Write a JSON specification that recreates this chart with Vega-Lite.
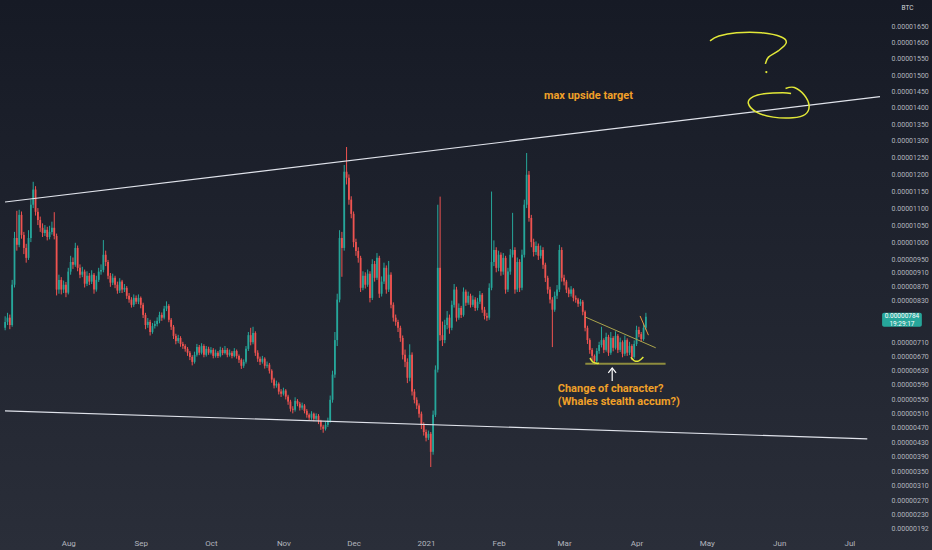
{
"$schema":"https://vega.github.io/schema/vega-lite/v6.json",
"width":885,"height":534,"autosize":"none",
"padding":{"left":0,"top":0,"right":47,"bottom":16},
"background":"#1e222d",
"config":{"view":{"stroke":null},"font":"Roboto","axis":{"labelOverlap":false,"labelSeparation":0}},
"datasets":{"candles":[
{"d":"2020-07-05","o":752,"h":785,"l":745,"c":769},
{"d":"2020-07-06","o":769,"h":795,"l":760,"c":781},
{"d":"2020-07-07","o":781,"h":790,"l":748,"c":760},
{"d":"2020-07-08","o":760,"h":890,"l":755,"c":876},
{"d":"2020-07-09","o":876,"h":1030,"l":868,"c":1012},
{"d":"2020-07-10","o":1012,"h":1092,"l":975,"c":992},
{"d":"2020-07-11","o":992,"h":1095,"l":985,"c":1080},
{"d":"2020-07-12","o":1080,"h":1090,"l":1010,"c":1021},
{"d":"2020-07-13","o":1021,"h":1030,"l":965,"c":983},
{"d":"2020-07-14","o":983,"h":995,"l":940,"c":954},
{"d":"2020-07-15","o":954,"h":1035,"l":948,"c":1012},
{"d":"2020-07-16","o":1012,"h":1125,"l":1000,"c":1110},
{"d":"2020-07-17","o":1110,"h":1178,"l":1100,"c":1155},
{"d":"2020-07-18","o":1155,"h":1165,"l":1078,"c":1089},
{"d":"2020-07-19","o":1089,"h":1100,"l":1050,"c":1065},
{"d":"2020-07-20","o":1065,"h":1075,"l":1030,"c":1042},
{"d":"2020-07-21","o":1042,"h":1055,"l":1015,"c":1027},
{"d":"2020-07-22","o":1027,"h":1050,"l":1018,"c":1036},
{"d":"2020-07-23","o":1036,"h":1045,"l":1005,"c":1015},
{"d":"2020-07-24","o":1015,"h":1048,"l":1008,"c":1030},
{"d":"2020-07-25","o":1030,"h":1060,"l":1022,"c":1042},
{"d":"2020-07-26","o":1042,"h":1088,"l":1008,"c":1018},
{"d":"2020-07-27","o":1018,"h":1025,"l":845,"c":862},
{"d":"2020-07-28","o":862,"h":905,"l":850,"c":890},
{"d":"2020-07-29","o":890,"h":898,"l":848,"c":862},
{"d":"2020-07-30","o":862,"h":888,"l":852,"c":876},
{"d":"2020-07-31","o":876,"h":884,"l":840,"c":853},
{"d":"2020-08-01","o":853,"h":925,"l":848,"c":914},
{"d":"2020-08-02","o":914,"h":960,"l":905,"c":942},
{"d":"2020-08-03","o":942,"h":955,"l":922,"c":934},
{"d":"2020-08-04","o":934,"h":998,"l":928,"c":983},
{"d":"2020-08-05","o":983,"h":990,"l":915,"c":925},
{"d":"2020-08-06","o":925,"h":935,"l":895,"c":905},
{"d":"2020-08-07","o":905,"h":928,"l":898,"c":914},
{"d":"2020-08-08","o":914,"h":920,"l":868,"c":879},
{"d":"2020-08-09","o":879,"h":915,"l":872,"c":902},
{"d":"2020-08-10","o":902,"h":910,"l":875,"c":885},
{"d":"2020-08-11","o":885,"h":918,"l":878,"c":905},
{"d":"2020-08-12","o":905,"h":910,"l":850,"c":862},
{"d":"2020-08-13","o":862,"h":902,"l":856,"c":890},
{"d":"2020-08-14","o":890,"h":925,"l":884,"c":914},
{"d":"2020-08-15","o":914,"h":935,"l":905,"c":919},
{"d":"2020-08-16","o":919,"h":1006,"l":912,"c":963},
{"d":"2020-08-17","o":963,"h":975,"l":930,"c":942},
{"d":"2020-08-18","o":942,"h":948,"l":892,"c":902},
{"d":"2020-08-19","o":902,"h":910,"l":870,"c":882},
{"d":"2020-08-20","o":882,"h":908,"l":875,"c":896},
{"d":"2020-08-21","o":896,"h":902,"l":866,"c":876},
{"d":"2020-08-22","o":876,"h":885,"l":850,"c":859},
{"d":"2020-08-23","o":859,"h":895,"l":852,"c":885},
{"d":"2020-08-24","o":885,"h":890,"l":852,"c":862},
{"d":"2020-08-25","o":862,"h":878,"l":855,"c":867},
{"d":"2020-08-26","o":867,"h":872,"l":835,"c":844},
{"d":"2020-08-27","o":844,"h":852,"l":824,"c":833},
{"d":"2020-08-28","o":833,"h":840,"l":810,"c":818},
{"d":"2020-08-29","o":818,"h":848,"l":812,"c":838},
{"d":"2020-08-30","o":838,"h":845,"l":820,"c":827},
{"d":"2020-08-31","o":827,"h":848,"l":820,"c":838},
{"d":"2020-09-01","o":838,"h":842,"l":808,"c":818},
{"d":"2020-09-02","o":818,"h":824,"l":780,"c":789},
{"d":"2020-09-03","o":789,"h":795,"l":748,"c":760},
{"d":"2020-09-04","o":760,"h":780,"l":752,"c":769},
{"d":"2020-09-05","o":769,"h":775,"l":730,"c":740},
{"d":"2020-09-06","o":740,"h":766,"l":735,"c":757},
{"d":"2020-09-07","o":757,"h":772,"l":750,"c":763},
{"d":"2020-09-08","o":763,"h":782,"l":756,"c":772},
{"d":"2020-09-09","o":772,"h":798,"l":765,"c":789},
{"d":"2020-09-10","o":789,"h":796,"l":772,"c":781},
{"d":"2020-09-11","o":781,"h":815,"l":776,"c":807},
{"d":"2020-09-12","o":807,"h":828,"l":800,"c":815},
{"d":"2020-09-13","o":815,"h":820,"l":768,"c":775},
{"d":"2020-09-14","o":775,"h":780,"l":746,"c":755},
{"d":"2020-09-15","o":755,"h":760,"l":720,"c":729},
{"d":"2020-09-16","o":729,"h":735,"l":705,"c":714},
{"d":"2020-09-17","o":714,"h":732,"l":708,"c":723},
{"d":"2020-09-18","o":723,"h":728,"l":698,"c":706},
{"d":"2020-09-19","o":706,"h":712,"l":692,"c":700},
{"d":"2020-09-20","o":700,"h":705,"l":684,"c":692},
{"d":"2020-09-21","o":692,"h":697,"l":672,"c":681},
{"d":"2020-09-22","o":681,"h":686,"l":660,"c":669},
{"d":"2020-09-23","o":669,"h":674,"l":645,"c":655},
{"d":"2020-09-24","o":655,"h":684,"l":650,"c":675},
{"d":"2020-09-25","o":675,"h":706,"l":670,"c":697},
{"d":"2020-09-26","o":697,"h":703,"l":674,"c":681},
{"d":"2020-09-27","o":681,"h":708,"l":676,"c":700},
{"d":"2020-09-28","o":700,"h":705,"l":668,"c":675},
{"d":"2020-09-29","o":675,"h":700,"l":670,"c":692},
{"d":"2020-09-30","o":692,"h":698,"l":675,"c":681},
{"d":"2020-10-01","o":681,"h":697,"l":676,"c":689},
{"d":"2020-10-02","o":689,"h":694,"l":665,"c":672},
{"d":"2020-10-03","o":672,"h":690,"l":667,"c":681},
{"d":"2020-10-04","o":681,"h":686,"l":666,"c":672},
{"d":"2020-10-05","o":672,"h":698,"l":668,"c":689},
{"d":"2020-10-06","o":689,"h":695,"l":674,"c":680},
{"d":"2020-10-07","o":680,"h":700,"l":676,"c":689},
{"d":"2020-10-08","o":689,"h":694,"l":668,"c":675},
{"d":"2020-10-09","o":675,"h":690,"l":670,"c":681},
{"d":"2020-10-10","o":681,"h":686,"l":665,"c":672},
{"d":"2020-10-11","o":672,"h":694,"l":668,"c":686},
{"d":"2020-10-12","o":686,"h":690,"l":664,"c":672},
{"d":"2020-10-13","o":672,"h":676,"l":652,"c":661},
{"d":"2020-10-14","o":661,"h":665,"l":635,"c":644},
{"d":"2020-10-15","o":644,"h":662,"l":638,"c":655},
{"d":"2020-10-16","o":655,"h":700,"l":650,"c":692},
{"d":"2020-10-17","o":692,"h":740,"l":686,"c":731},
{"d":"2020-10-18","o":731,"h":752,"l":702,"c":711},
{"d":"2020-10-19","o":711,"h":755,"l":705,"c":737},
{"d":"2020-10-20","o":737,"h":742,"l":672,"c":681},
{"d":"2020-10-21","o":681,"h":688,"l":655,"c":664},
{"d":"2020-10-22","o":664,"h":670,"l":646,"c":655},
{"d":"2020-10-23","o":655,"h":672,"l":650,"c":664},
{"d":"2020-10-24","o":664,"h":668,"l":636,"c":644},
{"d":"2020-10-25","o":644,"h":656,"l":638,"c":647},
{"d":"2020-10-26","o":647,"h":652,"l":622,"c":630},
{"d":"2020-10-27","o":630,"h":634,"l":596,"c":605},
{"d":"2020-10-28","o":605,"h":610,"l":580,"c":588},
{"d":"2020-10-29","o":588,"h":602,"l":582,"c":593},
{"d":"2020-10-30","o":593,"h":597,"l":563,"c":571},
{"d":"2020-10-31","o":571,"h":578,"l":556,"c":565},
{"d":"2020-11-01","o":565,"h":582,"l":560,"c":574},
{"d":"2020-11-02","o":574,"h":578,"l":549,"c":557},
{"d":"2020-11-03","o":557,"h":562,"l":534,"c":543},
{"d":"2020-11-04","o":543,"h":548,"l":515,"c":523},
{"d":"2020-11-05","o":523,"h":530,"l":510,"c":520},
{"d":"2020-11-06","o":520,"h":555,"l":515,"c":545},
{"d":"2020-11-07","o":545,"h":550,"l":530,"c":537},
{"d":"2020-11-08","o":537,"h":542,"l":518,"c":526},
{"d":"2020-11-09","o":526,"h":540,"l":520,"c":532},
{"d":"2020-11-10","o":532,"h":536,"l":510,"c":517},
{"d":"2020-11-11","o":517,"h":522,"l":498,"c":506},
{"d":"2020-11-12","o":506,"h":510,"l":490,"c":498},
{"d":"2020-11-13","o":498,"h":516,"l":492,"c":509},
{"d":"2020-11-14","o":509,"h":512,"l":488,"c":495},
{"d":"2020-11-15","o":495,"h":510,"l":490,"c":503},
{"d":"2020-11-16","o":503,"h":508,"l":480,"c":489},
{"d":"2020-11-17","o":489,"h":492,"l":464,"c":473},
{"d":"2020-11-18","o":473,"h":478,"l":456,"c":467},
{"d":"2020-11-19","o":467,"h":486,"l":462,"c":478},
{"d":"2020-11-20","o":478,"h":498,"l":472,"c":489},
{"d":"2020-11-21","o":489,"h":560,"l":484,"c":548},
{"d":"2020-11-22","o":548,"h":630,"l":540,"c":619},
{"d":"2020-11-23","o":619,"h":740,"l":610,"c":717},
{"d":"2020-11-24","o":717,"h":850,"l":700,"c":833},
{"d":"2020-11-25","o":833,"h":1035,"l":825,"c":1012},
{"d":"2020-11-26","o":1012,"h":1030,"l":899,"c":983},
{"d":"2020-11-27","o":983,"h":1228,"l":975,"c":1208},
{"d":"2020-11-28","o":1208,"h":1282,"l":1170,"c":1190},
{"d":"2020-11-29","o":1190,"h":1200,"l":1110,"c":1125},
{"d":"2020-11-30","o":1125,"h":1135,"l":1070,"c":1083},
{"d":"2020-12-01","o":1083,"h":1090,"l":985,"c":1000},
{"d":"2020-12-02","o":1000,"h":1010,"l":960,"c":974},
{"d":"2020-12-03","o":974,"h":985,"l":940,"c":954},
{"d":"2020-12-04","o":954,"h":960,"l":855,"c":867},
{"d":"2020-12-05","o":867,"h":915,"l":860,"c":902},
{"d":"2020-12-06","o":902,"h":912,"l":865,"c":876},
{"d":"2020-12-07","o":876,"h":920,"l":870,"c":908},
{"d":"2020-12-08","o":908,"h":915,"l":825,"c":838},
{"d":"2020-12-09","o":838,"h":950,"l":832,"c":936},
{"d":"2020-12-10","o":936,"h":945,"l":885,"c":896},
{"d":"2020-12-11","o":896,"h":968,"l":890,"c":954},
{"d":"2020-12-12","o":954,"h":960,"l":838,"c":850},
{"d":"2020-12-13","o":850,"h":900,"l":842,"c":885},
{"d":"2020-12-14","o":885,"h":940,"l":878,"c":925},
{"d":"2020-12-15","o":925,"h":932,"l":850,"c":862},
{"d":"2020-12-16","o":862,"h":945,"l":855,"c":905},
{"d":"2020-12-17","o":905,"h":912,"l":808,"c":818},
{"d":"2020-12-18","o":818,"h":825,"l":770,"c":781},
{"d":"2020-12-19","o":781,"h":790,"l":758,"c":769},
{"d":"2020-12-20","o":769,"h":775,"l":740,"c":752},
{"d":"2020-12-21","o":752,"h":758,"l":712,"c":723},
{"d":"2020-12-22","o":723,"h":730,"l":662,"c":675},
{"d":"2020-12-23","o":675,"h":690,"l":640,"c":655},
{"d":"2020-12-24","o":655,"h":665,"l":595,"c":610},
{"d":"2020-12-25","o":610,"h":705,"l":600,"c":675},
{"d":"2020-12-26","o":675,"h":682,"l":560,"c":571},
{"d":"2020-12-27","o":571,"h":578,"l":538,"c":548},
{"d":"2020-12-28","o":548,"h":555,"l":522,"c":532},
{"d":"2020-12-29","o":532,"h":538,"l":498,"c":509},
{"d":"2020-12-30","o":509,"h":515,"l":466,"c":478},
{"d":"2020-12-31","o":478,"h":485,"l":448,"c":458},
{"d":"2021-01-01","o":458,"h":465,"l":432,"c":442},
{"d":"2021-01-02","o":442,"h":462,"l":436,"c":453},
{"d":"2021-01-03","o":453,"h":458,"l":361,"c":403},
{"d":"2021-01-04","o":403,"h":518,"l":395,"c":506},
{"d":"2021-01-05","o":506,"h":645,"l":500,"c":633},
{"d":"2021-01-06","o":633,"h":1110,"l":625,"c":925},
{"d":"2021-01-07","o":925,"h":1134,"l":715,"c":731},
{"d":"2021-01-08","o":731,"h":770,"l":700,"c":717},
{"d":"2021-01-09","o":717,"h":775,"l":708,"c":760},
{"d":"2021-01-10","o":760,"h":800,"l":748,"c":781},
{"d":"2021-01-11","o":781,"h":790,"l":735,"c":752},
{"d":"2021-01-12","o":752,"h":830,"l":745,"c":818},
{"d":"2021-01-13","o":818,"h":878,"l":810,"c":862},
{"d":"2021-01-14","o":862,"h":870,"l":770,"c":781},
{"d":"2021-01-15","o":781,"h":822,"l":775,"c":809},
{"d":"2021-01-16","o":809,"h":815,"l":780,"c":789},
{"d":"2021-01-17","o":789,"h":868,"l":784,"c":856},
{"d":"2021-01-18","o":856,"h":862,"l":815,"c":824},
{"d":"2021-01-19","o":824,"h":856,"l":818,"c":844},
{"d":"2021-01-20","o":844,"h":850,"l":810,"c":818},
{"d":"2021-01-21","o":818,"h":845,"l":812,"c":833},
{"d":"2021-01-22","o":833,"h":840,"l":800,"c":809},
{"d":"2021-01-23","o":809,"h":838,"l":802,"c":827},
{"d":"2021-01-24","o":827,"h":858,"l":820,"c":847},
{"d":"2021-01-25","o":847,"h":852,"l":795,"c":804},
{"d":"2021-01-26","o":804,"h":812,"l":776,"c":786},
{"d":"2021-01-27","o":786,"h":795,"l":772,"c":781},
{"d":"2021-01-28","o":781,"h":880,"l":775,"c":867},
{"d":"2021-01-29","o":867,"h":1149,"l":860,"c":942},
{"d":"2021-01-30","o":942,"h":1005,"l":930,"c":977},
{"d":"2021-01-31","o":977,"h":985,"l":912,"c":925},
{"d":"2021-02-01","o":925,"h":975,"l":915,"c":963},
{"d":"2021-02-02","o":963,"h":970,"l":902,"c":914},
{"d":"2021-02-03","o":914,"h":968,"l":905,"c":954},
{"d":"2021-02-04","o":954,"h":960,"l":850,"c":862},
{"d":"2021-02-05","o":862,"h":925,"l":855,"c":914},
{"d":"2021-02-06","o":914,"h":980,"l":905,"c":963},
{"d":"2021-02-07","o":963,"h":1086,"l":955,"c":977},
{"d":"2021-02-08","o":977,"h":985,"l":850,"c":862},
{"d":"2021-02-09","o":862,"h":955,"l":855,"c":942},
{"d":"2021-02-10","o":942,"h":950,"l":855,"c":867},
{"d":"2021-02-11","o":867,"h":978,"l":860,"c":963},
{"d":"2021-02-12","o":963,"h":1125,"l":955,"c":1110},
{"d":"2021-02-13","o":1110,"h":1264,"l":1100,"c":1199},
{"d":"2021-02-14","o":1199,"h":1210,"l":1060,"c":1071},
{"d":"2021-02-15","o":1071,"h":1080,"l":985,"c":1000},
{"d":"2021-02-16","o":1000,"h":1010,"l":958,"c":971},
{"d":"2021-02-17","o":971,"h":1002,"l":962,"c":989},
{"d":"2021-02-18","o":989,"h":996,"l":948,"c":960},
{"d":"2021-02-19","o":960,"h":990,"l":952,"c":977},
{"d":"2021-02-20","o":977,"h":985,"l":922,"c":934},
{"d":"2021-02-21","o":934,"h":940,"l":884,"c":896},
{"d":"2021-02-22","o":896,"h":902,"l":850,"c":862},
{"d":"2021-02-23","o":862,"h":870,"l":822,"c":833},
{"d":"2021-02-24","o":833,"h":840,"l":697,"c":804},
{"d":"2021-02-25","o":804,"h":856,"l":798,"c":844},
{"d":"2021-02-26","o":844,"h":875,"l":835,"c":862},
{"d":"2021-02-27","o":862,"h":992,"l":855,"c":977},
{"d":"2021-02-28","o":977,"h":985,"l":885,"c":896},
{"d":"2021-03-01","o":896,"h":905,"l":874,"c":885},
{"d":"2021-03-02","o":885,"h":890,"l":852,"c":862},
{"d":"2021-03-03","o":862,"h":868,"l":840,"c":850},
{"d":"2021-03-04","o":850,"h":872,"l":842,"c":862},
{"d":"2021-03-05","o":862,"h":866,"l":828,"c":838},
{"d":"2021-03-06","o":838,"h":845,"l":824,"c":833},
{"d":"2021-03-07","o":833,"h":838,"l":812,"c":821},
{"d":"2021-03-08","o":821,"h":835,"l":815,"c":827},
{"d":"2021-03-09","o":827,"h":832,"l":788,"c":798},
{"d":"2021-03-10","o":798,"h":802,"l":742,"c":752},
{"d":"2021-03-11","o":752,"h":758,"l":706,"c":717},
{"d":"2021-03-12","o":717,"h":722,"l":678,"c":689},
{"d":"2021-03-13","o":689,"h":694,"l":660,"c":672},
{"d":"2021-03-14","o":672,"h":676,"l":648,"c":658},
{"d":"2021-03-15","o":658,"h":694,"l":652,"c":686},
{"d":"2021-03-16","o":686,"h":712,"l":678,"c":703},
{"d":"2021-03-17","o":703,"h":755,"l":696,"c":717},
{"d":"2021-03-18","o":717,"h":722,"l":680,"c":689},
{"d":"2021-03-19","o":689,"h":738,"l":684,"c":726},
{"d":"2021-03-20","o":726,"h":732,"l":672,"c":681},
{"d":"2021-03-21","o":681,"h":740,"l":675,"c":723},
{"d":"2021-03-22","o":723,"h":728,"l":685,"c":695},
{"d":"2021-03-23","o":695,"h":742,"l":690,"c":729},
{"d":"2021-03-24","o":729,"h":734,"l":680,"c":689},
{"d":"2021-03-25","o":689,"h":724,"l":683,"c":711},
{"d":"2021-03-26","o":711,"h":716,"l":668,"c":678},
{"d":"2021-03-27","o":678,"h":730,"l":672,"c":717},
{"d":"2021-03-28","o":717,"h":722,"l":672,"c":681},
{"d":"2021-03-29","o":681,"h":712,"l":674,"c":700},
{"d":"2021-03-30","o":700,"h":705,"l":660,"c":669},
{"d":"2021-03-31","o":669,"h":716,"l":664,"c":706},
{"d":"2021-04-01","o":706,"h":758,"l":700,"c":746},
{"d":"2021-04-02","o":746,"h":755,"l":725,"c":734},
{"d":"2021-04-03","o":734,"h":740,"l":712,"c":720},
{"d":"2021-04-04","o":720,"h":765,"l":715,"c":752},
{"d":"2021-04-05","o":752,"h":795,"l":745,"c":784}
]},
"layer":[
{"data":{"values":[{}]},
 "mark":{"type":"rect","color":{"gradient":"linear","x1":0,"y1":0,"x2":0,"y2":1,"stops":[{"offset":0.086,"color":"#161a25"},{"offset":0.979,"color":"#2a2e39"}]}},
 "encoding":{
  "x":{"datum":{"year":2020,"month":6,"date":1,"utc":true},"type":"temporal","scale":{"type":"utc","domain":[{"year":2020,"month":7,"date":4,"hours":22,"minutes":30,"utc":true},{"year":2021,"month":7,"date":14,"hours":2,"minutes":30,"utc":true}]},
   "axis":{"values":[{"year":2020,"month":8,"date":1,"utc":true},{"year":2020,"month":9,"date":1,"utc":true},{"year":2020,"month":10,"date":1,"utc":true},{"year":2020,"month":11,"date":1,"utc":true},{"year":2020,"month":12,"date":1,"utc":true},{"year":2021,"month":1,"date":1,"utc":true},{"year":2021,"month":2,"date":1,"utc":true},{"year":2021,"month":3,"date":1,"utc":true},{"year":2021,"month":4,"date":1,"utc":true},{"year":2021,"month":5,"date":1,"utc":true},{"year":2021,"month":6,"date":1,"utc":true},{"year":2021,"month":7,"date":1,"utc":true}],
    "labelExpr":"utcmonth(datum.value) == 0 ? utcFormat(datum.value, '%Y') : utcFormat(datum.value, '%b')",
    "title":null,"grid":false,"ticks":false,"domain":false,"labelColor":"#b2b5be","labelFontSize":8,"labelPadding":5,"labelFont":"Roboto","zindex":1,"labelOverlap":false,"labelFlush":false}},
  "x2":{"datum":{"year":2021,"month":9,"date":1,"utc":true}},
  "y":{"datum":100,"type":"quantitative","scale":{"type":"symlog","constant":10000,"domain":[178,1732],"nice":false,"zero":false},
   "axis":{"orient":"right","tickCount":200,"values":[1650,1600,1550,1500,1450,1400,1350,1300,1250,1200,1150,1100,1050,1000,950,910,870,830,710,670,630,590,550,510,470,430,390,350,310,270,230,192],
    "labelExpr":"format(datum.value/100000000, '.8f')","title":"BTC","titleAngle":0,"titleX":22,"titleY":7,"titleAlign":"center","titleBaseline":"middle","titleFontSize":6.5,"titleFontWeight":"normal","titleColor":"#d1d4dc","titleFont":"Roboto",
    "grid":false,"ticks":false,"domain":false,"labelColor":"#b2b5be","labelFontSize":7,"labelFont":"Roboto","labelPadding":6,"labelAlign":"left","labelBaseline":"middle","zindex":1,"labelOverlap":false,"labelSeparation":0,"labelFlush":false}},
  "y2":{"datum":1900}}},
{"data":{"name":"candles"},
 "mark":{"type":"rule","strokeWidth":1},
 "encoding":{
  "x":{"field":"d","type":"temporal","scale":{"type":"utc","domain":[{"year":2020,"month":7,"date":4,"hours":22,"minutes":30,"utc":true},{"year":2021,"month":7,"date":14,"hours":2,"minutes":30,"utc":true}]}},
  "y":{"field":"l","type":"quantitative","scale":{"type":"symlog","constant":10000,"domain":[178,1732],"nice":false,"zero":false}},
  "y2":{"field":"h"},
  "color":{"condition":{"test":"datum.c >= datum.o","value":"#26a69a"},"value":"#ef5350"}}},
{"data":{"name":"candles"},
 "mark":{"type":"bar","size":1.8},
 "encoding":{
  "x":{"field":"d","type":"temporal","scale":{"type":"utc","domain":[{"year":2020,"month":7,"date":4,"hours":22,"minutes":30,"utc":true},{"year":2021,"month":7,"date":14,"hours":2,"minutes":30,"utc":true}]}},
  "y":{"field":"o","type":"quantitative","scale":{"type":"symlog","constant":10000,"domain":[178,1732],"nice":false,"zero":false}},
  "y2":{"field":"c"},
  "color":{"condition":{"test":"datum.c >= datum.o","value":"#26a69a"},"value":"#ef5350"}}},
{"data":{"values":[
  {"g":"up","k":1,"t":"2020-07-04T22:30:00Z","v":1118},{"g":"up","k":2,"t":"2021-07-14T02:30:00Z","v":1434},
  {"g":"lo","k":1,"t":"2020-07-04T22:30:00Z","v":517},{"g":"lo","k":2,"t":"2021-07-08T16:00:00Z","v":439}]},
 "mark":{"type":"line","color":"#e0e3eb","strokeWidth":1.2},
 "encoding":{
  "x":{"field":"t","type":"temporal","scale":{"type":"utc","domain":[{"year":2020,"month":7,"date":4,"hours":22,"minutes":30,"utc":true},{"year":2021,"month":7,"date":14,"hours":2,"minutes":30,"utc":true}]}},
  "y":{"field":"v","type":"quantitative","scale":{"type":"symlog","constant":10000,"domain":[178,1732],"nice":false,"zero":false}},
  "detail":{"field":"g"},"order":{"field":"k","type":"quantitative"}}},
{"data":{"values":[
  {"g":"tt","k":1,"t":"2021-03-10T02:00:00Z","v":783},{"g":"tt","k":2,"t":"2021-04-09T05:00:00Z","v":695}]},
 "mark":{"type":"line","color":"#aaa44c","strokeWidth":1},
 "encoding":{
  "x":{"field":"t","type":"temporal","scale":{"type":"utc","domain":[{"year":2020,"month":7,"date":4,"hours":22,"minutes":30,"utc":true},{"year":2021,"month":7,"date":14,"hours":2,"minutes":30,"utc":true}]}},
  "y":{"field":"v","type":"quantitative","scale":{"type":"symlog","constant":10000,"domain":[178,1732],"nice":false,"zero":false}},
  "detail":{"field":"g"},"order":{"field":"k","type":"quantitative"}}},
{"data":{"values":[
  {"g":"bt","k":1,"t":"2021-03-10T02:00:00Z","v":650},{"g":"bt","k":2,"t":"2021-04-13T10:00:00Z","v":650}]},
 "mark":{"type":"line","color":"#8e8c3e","strokeWidth":2},
 "encoding":{
  "x":{"field":"t","type":"temporal","scale":{"type":"utc","domain":[{"year":2020,"month":7,"date":4,"hours":22,"minutes":30,"utc":true},{"year":2021,"month":7,"date":14,"hours":2,"minutes":30,"utc":true}]}},
  "y":{"field":"v","type":"quantitative","scale":{"type":"symlog","constant":10000,"domain":[178,1732],"nice":false,"zero":false}},
  "detail":{"field":"g"},"order":{"field":"k","type":"quantitative"}}},
{"data":{"values":[
  {"g":"s1","k":1,"t":"2021-03-12T02:00:00Z","v":666},{"g":"s1","k":2,"t":"2021-03-13T07:00:00Z","v":655},{"g":"s1","k":3,"t":"2021-03-14T19:00:00Z","v":651},{"g":"s1","k":4,"t":"2021-03-15T22:00:00Z","v":651},
  {"g":"s2","k":1,"t":"2021-03-29T14:00:00Z","v":668},{"g":"s2","k":2,"t":"2021-03-31T02:00:00Z","v":658},{"g":"s2","k":3,"t":"2021-04-02T00:00:00Z","v":658},{"g":"s2","k":4,"t":"2021-04-03T22:00:00Z","v":669},
  {"g":"q","k":1,"t":"2021-05-02T10:00:00Z","v":1605},{"g":"q","k":2,"t":"2021-05-06T05:00:00Z","v":1620},{"g":"q","k":3,"t":"2021-05-13T19:00:00Z","v":1630},{"g":"q","k":4,"t":"2021-05-24T10:00:00Z","v":1630},{"g":"q","k":5,"t":"2021-06-01T22:00:00Z","v":1617},{"g":"q","k":6,"t":"2021-06-04T00:00:00Z","v":1599},{"g":"q","k":7,"t":"2021-05-31T14:00:00Z","v":1574},{"g":"q","k":8,"t":"2021-05-27T10:00:00Z","v":1555},{"g":"q","k":9,"t":"2021-05-26T02:00:00Z","v":1534},
  {"g":"o","k":1,"t":"2021-06-03T17:00:00Z","v":1459},{"g":"o","k":2,"t":"2021-06-07T12:00:00Z","v":1462},{"g":"o","k":3,"t":"2021-06-11T17:00:00Z","v":1439},{"g":"o","k":4,"t":"2021-06-13T19:00:00Z","v":1406},{"g":"o","k":5,"t":"2021-06-12T02:00:00Z","v":1380},{"g":"o","k":6,"t":"2021-06-06T19:00:00Z","v":1370},{"g":"o","k":7,"t":"2021-05-29T10:00:00Z","v":1372},{"g":"o","k":8,"t":"2021-05-22T07:00:00Z","v":1387},{"g":"o","k":9,"t":"2021-05-18T19:00:00Z","v":1414},{"g":"o","k":10,"t":"2021-05-20T22:00:00Z","v":1434},{"g":"o","k":11,"t":"2021-05-26T12:00:00Z","v":1444},{"g":"o","k":12,"t":"2021-06-02T14:00:00Z","v":1446},{"g":"o","k":13,"t":"2021-06-06T02:00:00Z","v":1444}]},
 "mark":{"type":"line","color":"#e2e838","strokeWidth":1.5,"interpolate":"cardinal"},
 "encoding":{
  "x":{"field":"t","type":"temporal","scale":{"type":"utc","domain":[{"year":2020,"month":7,"date":4,"hours":22,"minutes":30,"utc":true},{"year":2021,"month":7,"date":14,"hours":2,"minutes":30,"utc":true}]}},
  "y":{"field":"v","type":"quantitative","scale":{"type":"symlog","constant":10000,"domain":[178,1732],"nice":false,"zero":false}},
  "detail":{"field":"g"},"order":{"field":"k","type":"quantitative"}}},
{"data":{"values":[{"t":"2021-05-26T12:00:00Z","v":1509}]},
 "mark":{"type":"point","filled":true,"color":"#e2e838","size":5,"opacity":1},
 "encoding":{
  "x":{"field":"t","type":"temporal","scale":{"type":"utc","domain":[{"year":2020,"month":7,"date":4,"hours":22,"minutes":30,"utc":true},{"year":2021,"month":7,"date":14,"hours":2,"minutes":30,"utc":true}]}},
  "y":{"field":"v","type":"quantitative","scale":{"type":"symlog","constant":10000,"domain":[178,1732],"nice":false,"zero":false}}}},
{"data":{"values":[
  {"g":"od","k":1,"t":"2021-04-02T12:00:00Z","v":786},{"g":"od","k":2,"t":"2021-04-06T02:00:00Z","v":731}]},
 "mark":{"type":"line","color":"#e8943a","strokeWidth":1},
 "encoding":{
  "x":{"field":"t","type":"temporal","scale":{"type":"utc","domain":[{"year":2020,"month":7,"date":4,"hours":22,"minutes":30,"utc":true},{"year":2021,"month":7,"date":14,"hours":2,"minutes":30,"utc":true}]}},
  "y":{"field":"v","type":"quantitative","scale":{"type":"symlog","constant":10000,"domain":[178,1732],"nice":false,"zero":false}},
  "detail":{"field":"g"},"order":{"field":"k","type":"quantitative"}}},
{"data":{"values":[
  {"g":"ah","k":1,"t":"2021-03-19T22:00:00Z","v":624},{"g":"ah","k":2,"t":"2021-03-21T14:00:00Z","v":638},{"g":"ah","k":3,"t":"2021-03-23T06:00:00Z","v":624},
  {"g":"as","k":1,"t":"2021-03-21T14:00:00Z","v":638},{"g":"as","k":2,"t":"2021-03-21T14:00:00Z","v":601}]},
 "mark":{"type":"line","color":"#ffffff","strokeWidth":1.2},
 "encoding":{
  "x":{"field":"t","type":"temporal","scale":{"type":"utc","domain":[{"year":2020,"month":7,"date":4,"hours":22,"minutes":30,"utc":true},{"year":2021,"month":7,"date":14,"hours":2,"minutes":30,"utc":true}]}},
  "y":{"field":"v","type":"quantitative","scale":{"type":"symlog","constant":10000,"domain":[178,1732],"nice":false,"zero":false}},
  "detail":{"field":"g"},"order":{"field":"k","type":"quantitative"}}},
{"data":{"values":[
  {"t":"2021-02-20T09:00:00Z","v":1436,"s":"max upside target"},
  {"t":"2021-02-26T07:00:00Z","v":579,"s":"Change of character?"},
  {"t":"2021-02-26T07:00:00Z","v":541,"s":"(Whales stealth accum?)"}]},
 "mark":{"type":"text","align":"left","baseline":"middle","font":"Roboto","fontSize":11,"fontWeight":"bold","color":"#f0a028"},
 "encoding":{
  "x":{"field":"t","type":"temporal","scale":{"type":"utc","domain":[{"year":2020,"month":7,"date":4,"hours":22,"minutes":30,"utc":true},{"year":2021,"month":7,"date":14,"hours":2,"minutes":30,"utc":true}]}},
  "y":{"field":"v","type":"quantitative","scale":{"type":"symlog","constant":10000,"domain":[178,1732],"nice":false,"zero":false}},
  "text":{"field":"s"}}},
{"data":{"values":[{}]},
 "mark":{"type":"rect","color":"#26a69a","cornerRadius":2},
 "encoding":{
  "x":{"datum":{"year":2021,"month":7,"date":15,"utc":true},"type":"temporal","scale":{"type":"utc","domain":[{"year":2020,"month":7,"date":4,"hours":22,"minutes":30,"utc":true},{"year":2021,"month":7,"date":14,"hours":2,"minutes":30,"utc":true}]}},
  "x2":{"datum":{"year":2021,"month":8,"date":1,"utc":true}},
  "y":{"datum":795,"type":"quantitative","scale":{"type":"symlog","constant":10000,"domain":[178,1732],"nice":false,"zero":false}},
  "y2":{"datum":755}}},
{"data":{"values":[
  {"t":"2021-07-23T12:00:00Z","v":785,"s":"0.00000784"},
  {"t":"2021-07-23T12:00:00Z","v":764,"s":"19:29:17"}]},
 "mark":{"type":"text","align":"center","baseline":"middle","font":"Roboto","fontSize":6.5,"color":"#ffffff"},
 "encoding":{
  "x":{"field":"t","type":"temporal","scale":{"type":"utc","domain":[{"year":2020,"month":7,"date":4,"hours":22,"minutes":30,"utc":true},{"year":2021,"month":7,"date":14,"hours":2,"minutes":30,"utc":true}]}},
  "y":{"field":"v","type":"quantitative","scale":{"type":"symlog","constant":10000,"domain":[178,1732],"nice":false,"zero":false}},
  "text":{"field":"s"}}}
]
}
